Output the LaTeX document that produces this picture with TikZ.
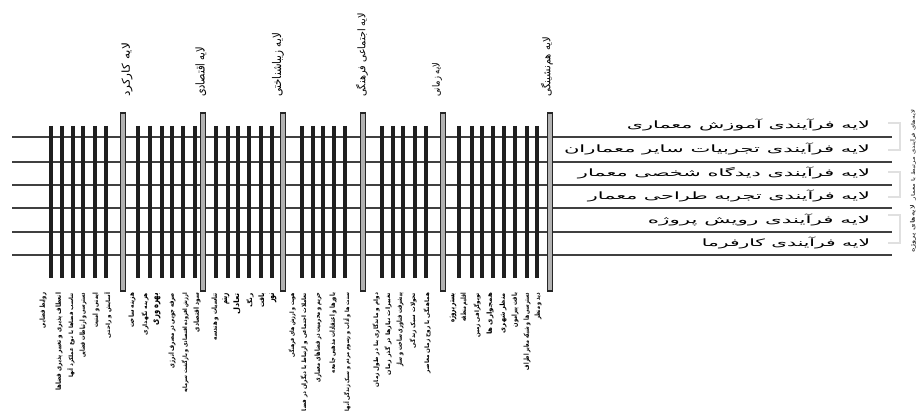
\documentclass[tikz,border=0pt]{standalone}
\usepackage{fontspec}
\usepackage{graphicx}
\newfontfamily\pfont[Script=Arabic]{DejaVu Sans}
\TeXXeTstate=1
\newcommand{\ptxt}[3]{\resizebox*{#1}{#2}{\pfont #3}}
\newcommand{\pbtxt}[3]{\resizebox*{#1}{#2}{\pfont\bfseries #3}}
\begin{document}
\begin{tikzpicture}[x=1pt,y=-1pt,
  hline/.style={draw=black!75, line width=2.4pt},
  minorbar/.style={draw=black!88, line width=3.6pt},
  majorbar/.style={draw=black!85, fill=black!30, line width=1.1pt},
  bracketline/.style={draw=black!45, double=black!12, double distance=1.2pt, line width=0.6pt},
  lbl/.style={inner sep=0pt, outer sep=0pt, text=black}]
\useasboundingbox[fill=white] (0,0) rectangle (919,414);

% horizontal process lines
\foreach \y in {137,162,185,208,232,255}
  \draw[hline] (12,\y) -- (892,\y);

% minor bars
\foreach \x in {51,62,73,83,95,106, 138,150,162,172,183,195, 216,228,238,249,261,272, 302,313,323,334,345, 382,393,403,415,426, 459,472,482,493,504,515,527,537}
  \draw[minorbar] (\x,126) -- (\x,278);

% major bars
\foreach \x in {123,203,283,363,443,550}
  \draw[majorbar] (\x-2.4,113) rectangle (\x+2.4,291);

% brackets
\foreach \t/\b in {123/150,172/197,215/243}
  \draw[bracketline] (888,\t) -- (900,\t) -- (900,\b) -- (888,\b);

% top labels
\node[lbl, rotate=90, anchor=west] (t1) at (127,97) {\ptxt{54pt}{11pt}{\beginR لایه کارکرد\endR}};
\node[lbl, rotate=90, anchor=west] (t2) at (201,97) {\ptxt{50pt}{11pt}{\beginR لایه اقتصادی\endR}};
\node[lbl, rotate=90, anchor=west] (t3) at (278,97) {\ptxt{64pt}{12pt}{\beginR لایه زیباشناختی\endR}};
\node[lbl, rotate=90, anchor=west] (t4) at (362,97) {\ptxt{84pt}{12pt}{\beginR لایه اجتماعی فرهنگی\endR}};
\node[lbl, rotate=90, anchor=west] (t5) at (437,97) {\ptxt{34pt}{10pt}{\beginR لایه زمانی\endR}};
\node[lbl, rotate=90, anchor=west] (t6) at (547,97) {\ptxt{60pt}{12pt}{\beginR لایه هم‌نشینگی\endR}};

% right labels
\node[lbl, anchor=east] (r1) at (870,125) {\ptxt{243pt}{12pt}{\beginR لایه فرآیندی آموزش معماری\endR}};
\node[lbl, anchor=east] (r2) at (870,149) {\ptxt{306pt}{12pt}{\beginR لایه فرآیندی تجربیات سایر معماران\endR}};
\node[lbl, anchor=east] (r3) at (870,172.5) {\ptxt{292pt}{12pt}{\beginR لایه فرآیندی دیدگاه شخصی معمار\endR}};
\node[lbl, anchor=east] (r4) at (870,196) {\ptxt{282pt}{12pt}{\beginR لایه فرآیندی تجربه طراحی معمار\endR}};
\node[lbl, anchor=east] (r5) at (870,219.5) {\ptxt{222pt}{12pt}{\beginR لایه فرآیندی رویش پروژه\endR}};
\node[lbl, anchor=east] (r6) at (870,243) {\ptxt{168pt}{12pt}{\beginR لایه فرآیندی کارفرما\endR}};

% far right vertical notes
\node[lbl, rotate=90, anchor=east] (v1) at (913,110) {\ptxt{90pt}{6pt}{\beginR لایه‌های فرآیندی مرتبط با معمار\endR}};
\node[lbl, rotate=90, anchor=east] (v2) at (913,205) {\ptxt{48pt}{6pt}{\beginR لایه‌های پروژه\endR}};

% bottom columns: group 1
\node[lbl, rotate=90, anchor=east] (a1) at (43,293) {\pbtxt{35pt}{7pt}{\beginR روابط فضایی\endR}};
\node[lbl, rotate=90, anchor=east] (a2) at (59,293) {\pbtxt{98pt}{7pt}{\beginR انعطاف پذیری و تغییر پذیری فضاها\endR}};
\node[lbl, rotate=90, anchor=east] (a3) at (71,293) {\pbtxt{85pt}{7pt}{\beginR تناسب فضاها با نوع عملکرد آنها\endR}};
\node[lbl, rotate=90, anchor=east] (a4) at (83,293) {\pbtxt{65pt}{7pt}{\beginR دسترسی و ارتباطات فضایی\endR}};
\node[lbl, rotate=90, anchor=east] (a5) at (96,293) {\pbtxt{35pt}{7pt}{\beginR ایمنی و امنیت\endR}};
\node[lbl, rotate=90, anchor=east] (a6) at (108,293) {\pbtxt{45pt}{7pt}{\beginR آسایش و راحتی\endR}};
% group 2
\node[lbl, rotate=90, anchor=east] (b1) at (132,293) {\pbtxt{35pt}{7pt}{\beginR هزینه ساخت\endR}};
\node[lbl, rotate=90, anchor=east] (b2) at (145,293) {\pbtxt{42pt}{7pt}{\beginR هزینه نگهداری\endR}};
\node[lbl, rotate=90, anchor=east] (b3) at (157,293) {\pbtxt{32pt}{7pt}{\beginR بهره وری\endR}};
\node[lbl, rotate=90, anchor=east] (b4) at (172,293) {\pbtxt{75pt}{7pt}{\beginR صرفه جویی در مصرف انرژی\endR}};
\node[lbl, rotate=90, anchor=east] (b5) at (185,293) {\pbtxt{100pt}{7pt}{\beginR ارزش افزوده اقتصادی و بازگشت سرمایه\endR}};
\node[lbl, rotate=90, anchor=east] (b6) at (197,293) {\pbtxt{39pt}{7pt}{\beginR سود اقتصادی\endR}};
% group 3
\node[lbl, rotate=90, anchor=east] (c1) at (215,293) {\pbtxt{47pt}{7pt}{\beginR تناسبات و هندسه\endR}};
\node[lbl, rotate=90, anchor=east] (c2) at (226,293) {\pbtxt{12pt}{7pt}{\beginR ریتم\endR}};
\node[lbl, rotate=90, anchor=east] (c3) at (237,293) {\pbtxt{22pt}{7pt}{\beginR تعادل\endR}};
\node[lbl, rotate=90, anchor=east] (c4) at (250,293) {\pbtxt{15pt}{7pt}{\beginR رنگ\endR}};
\node[lbl, rotate=90, anchor=east] (c5) at (262,293) {\pbtxt{15pt}{7pt}{\beginR بافت\endR}};
\node[lbl, rotate=90, anchor=east] (c6) at (273,293) {\pbtxt{10pt}{7pt}{\beginR نور\endR}};
% group 4
\node[lbl, rotate=90, anchor=east] (d1) at (292,293) {\pbtxt{64pt}{7pt}{\beginR هویت و ارزش های فرهنگی\endR}};
\node[lbl, rotate=90, anchor=east] (d2) at (304,293) {\pbtxt{118pt}{7pt}{\beginR تعاملات اجتماعی و ارتباط با دیگران در فضا\endR}};
\node[lbl, rotate=90, anchor=east] (d3) at (318,293) {\pbtxt{89pt}{7pt}{\beginR حریم و محرمیت در فضاهای معماری\endR}};
\node[lbl, rotate=90, anchor=east] (d4) at (333,293) {\pbtxt{80pt}{7pt}{\beginR باورها و اعتقادات مذهبی جامعه\endR}};
\node[lbl, rotate=90, anchor=east] (d5) at (347,293) {\pbtxt{118pt}{7pt}{\beginR سنت ها و آداب و رسوم مردم و سبک زندگی آنها\endR}};
% group 5
\node[lbl, rotate=90, anchor=east] (e1) at (376,293) {\pbtxt{94pt}{7pt}{\beginR دوام و ماندگاری بنا در طول زمان\endR}};
\node[lbl, rotate=90, anchor=east] (e2) at (388,293) {\pbtxt{82pt}{7pt}{\beginR تغییرات نیازها در گذر زمان\endR}};
\node[lbl, rotate=90, anchor=east] (e3) at (400,293) {\pbtxt{74pt}{7pt}{\beginR پیشرفت فناوری ساخت و ساز\endR}};
\node[lbl, rotate=90, anchor=east] (e4) at (413,293) {\pbtxt{55pt}{7pt}{\beginR تحولات سبک زندگی\endR}};
\node[lbl, rotate=90, anchor=east] (e5) at (427,293) {\pbtxt{80pt}{7pt}{\beginR هماهنگی با روح زمان معاصر\endR}};
% group 6
\node[lbl, rotate=90, anchor=east] (f1) at (453,293) {\pbtxt{30pt}{7pt}{\beginR بستر پروژه\endR}};
\node[lbl, rotate=90, anchor=east] (f2) at (464,293) {\pbtxt{29pt}{7pt}{\beginR اقلیم منطقه\endR}};
\node[lbl, rotate=90, anchor=east] (f3) at (477,293) {\pbtxt{45pt}{7pt}{\beginR توپوگرافی زمین\endR}};
\node[lbl, rotate=90, anchor=east] (f4) at (490,293) {\pbtxt{42pt}{7pt}{\beginR همجواری ها\endR}};
\node[lbl, rotate=90, anchor=east] (f5) at (503,293) {\pbtxt{40pt}{7pt}{\beginR منظر شهری\endR}};
\node[lbl, rotate=90, anchor=east] (f6) at (515,293) {\pbtxt{34pt}{7pt}{\beginR بافت پیرامون\endR}};
\node[lbl, rotate=90, anchor=east] (f7) at (527,293) {\pbtxt{77pt}{7pt}{\beginR دسترسی ها و شبکه معابر اطراف\endR}};
\node[lbl, rotate=90, anchor=east] (f8) at (538,293) {\pbtxt{27pt}{7pt}{\beginR دید و منظر\endR}};
\end{tikzpicture}
\end{document}
